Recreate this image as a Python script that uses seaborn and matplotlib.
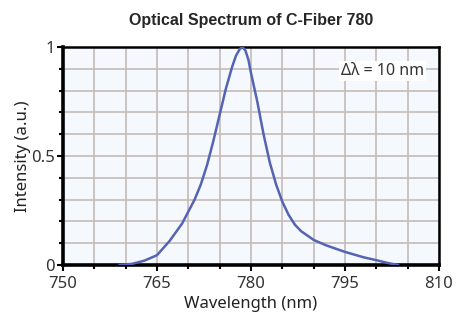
import pandas as pd
import seaborn as sns
import matplotlib.pyplot as plt
from matplotlib.ticker import MultipleLocator

# values
wavelength = [759, 761, 763, 765, 767, 769, 771, 772, 773, 774, 775, 776, 777, 777.6,
              778.2, 778.6, 779.1, 779.6, 780, 781, 782, 783, 784, 785, 786, 787, 788,
              790, 792, 795, 798, 800, 802, 803.5]
intensity = [0.0, 0.005, 0.02, 0.045, 0.11, 0.19, 0.30, 0.37, 0.46, 0.57, 0.69, 0.81,
             0.91, 0.96, 0.99, 1.0, 0.985, 0.94, 0.88, 0.75, 0.60, 0.47, 0.37, 0.29,
             0.23, 0.185, 0.155, 0.115, 0.09, 0.06, 0.035, 0.022, 0.008, 0.0]
x_ticks = [750, 765, 780, 795, 810]
y_ticks = [0, 0.5, 1]
y_tick_labels = ["0", "0.5", "1"]

df = pd.DataFrame({"Wavelength": wavelength, "Intensity": intensity})

sns.set_theme(style="white")
plt.rcParams['font.family'] = ['Noto Sans', 'DejaVu Sans']

fig = plt.figure(figsize=(4.58, 3.23), dpi=100)
ax = fig.add_axes([0.1376, 0.1796, 0.8209, 0.6749])
ax.set_facecolor("#f5f8fc")

sns.lineplot(data=df, x="Wavelength", y="Intensity", color="#5563b3", linewidth=1.8, ax=ax, zorder=3)

ax.set_xlim(750, 810)
ax.set_ylim(0, 1)
ax.set_xticks(x_ticks)
ax.xaxis.set_minor_locator(MultipleLocator(5))
ax.set_yticks(y_ticks)
ax.set_yticklabels(y_tick_labels)
ax.yaxis.set_minor_locator(MultipleLocator(0.1))

ax.grid(True, which="both", color="#c6bbb7", linewidth=1.2, zorder=0)
ax.set_axisbelow(True)
for name, s in ax.spines.items():
    s.set_color("black")
    s.set_linewidth(2.6 if name in ("left", "bottom") else 1.8)
    s.set_visible(True)

ax.tick_params(which="major", direction="out", length=4, width=1.5, color="black",
               labelsize=12, bottom=True, left=True, labelcolor="#333333")
ax.tick_params(axis="x", which="major", pad=4)
ax.tick_params(axis="y", which="major", pad=2)
ax.tick_params(which="minor", direction="out", length=3, width=1.5, color="black",
               bottom=True, left=True)
for lbl in ax.get_yticklabels():
    lbl.set_verticalalignment("center_baseline")

ax.set_xlabel("Wavelength (nm)", fontsize=12, color="#222222", labelpad=3)
ax.set_ylabel("Intensity (a.u.)", fontsize=12, color="#222222", labelpad=0)
ax.set_title("Optical Spectrum of C-Fiber 780", fontsize=11.5, fontweight="bold",
             family=["Liberation Sans", "DejaVu Sans"], pad=16)

ax.text(801, 0.89, "\u0394\u03bb = 10 nm", fontsize=11.5, color="#333333", ha="center", va="center",
        bbox=dict(facecolor="white", edgecolor="none", pad=1.5), zorder=4)

fig.savefig("out.png", dpi=100)
